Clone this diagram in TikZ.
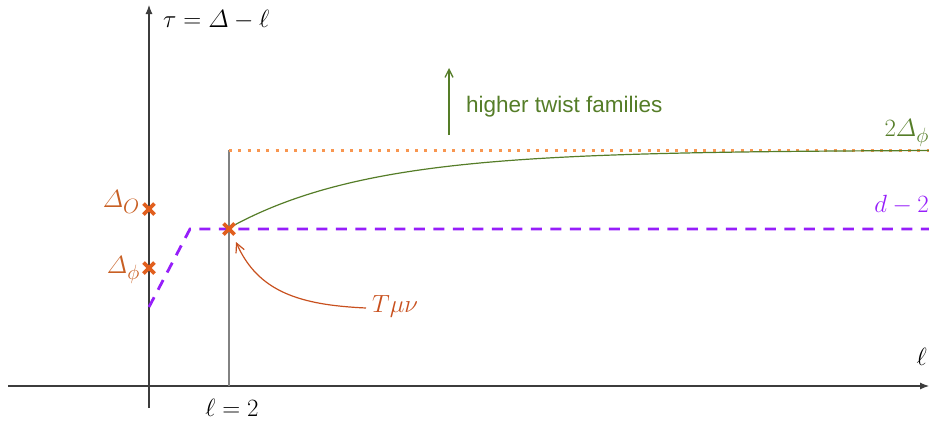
\documentclass[tikz,border=0pt]{standalone}
\usepackage{fontspec}
\usepackage{amsmath}
\newfontfamily\labsans{Liberation Sans}
\usetikzlibrary{arrows.meta}
\definecolor{axisgray}{RGB}{60,60,60}
\definecolor{lgray}{RGB}{130,130,130}
\definecolor{dotorange}{RGB}{248,150,80}
\definecolor{twistgreen}{RGB}{85,125,40}
\definecolor{dpurple}{RGB}{150,30,250}
\definecolor{crossorange}{RGB}{225,95,30}
\definecolor{laborange}{RGB}{200,95,35}
\definecolor{tmuorange}{RGB}{200,80,30}
\tikzset{
  axis/.style={draw=axisgray, line width=1.1pt, -{Latex[length=9pt,width=7pt]}},
  crossmark/.style={draw=crossorange, line width=3.6pt},
  lab/.style={inner sep=0pt, font=\fontsize{29}{31}\selectfont},
}
\begin{document}
\begin{tikzpicture}[x=1pt,y=-1pt]
\useasboundingbox (0,0) rectangle (929,423);
% axes
\coordinate (xs) at (8,386);
\coordinate (xe) at (929,386);
\coordinate (ys) at (149,408);
\coordinate (ye) at (149,5);
\draw[axis] (xs) -- (xe);
\draw[axis] (ys) -- (ye);
% vertical line at l=2
\coordinate (vb) at (229,386);
\coordinate (vt) at (229,150);
\draw[lgray, line width=1.4pt] (vb) -- (vt);
% dotted orange
\coordinate (de) at (929,150);
\draw[dotorange, line width=3pt, dash pattern=on 3pt off 6.3pt] (vt) -- (de);
% green curve
\draw[twistgreen, line width=1.2pt] plot[domain=229:929, samples=140, smooth] (\x, {150+78*exp(-(\x-229)/140)});
% purple dashed
\coordinate (p0) at (149,307);
\coordinate (p1) at (190,229);
\coordinate (p2) at (929,229);
\draw[dpurple, line width=2.8pt, dash pattern=on 11pt off 8.5pt] (p0) -- (p1) -- (p2);
% crosses
\foreach \n/\px/\py in {cO/149/209, cphi/149/268, cT/229/229}{
  \coordinate (\n) at (\px,\py);
  \draw[crossmark] ([shift={(-5.5,-5.5)}]\n) -- ([shift={(5.5,5.5)}]\n);
  \draw[crossmark] ([shift={(-5.5,5.5)}]\n) -- ([shift={(5.5,-5.5)}]\n);
}
% labels
\node[lab, anchor=west] (tau) at (163,20) {$\tau=\varDelta-\ell$};
\node[lab, anchor=east, text=laborange] (lO) at (140,202) {$\varDelta_{O}$};
\node[lab, anchor=east, text=laborange] (lphi) at (140,270) {$\varDelta_{\phi}$};
\node[lab, text=twistgreen, anchor=east] (l2d) at (929,133) {$2\varDelta_{\phi}$};
\node[lab, text=dpurple, anchor=east, font=\fontsize{31}{33}\selectfont] (ldm) at (929,205) {$d-2$};
\node[lab, text=tmuorange, anchor=west] (tmn) at (372,306) {$T\mu\nu$};
\node[lab, anchor=north] (l2) at (232,399) {$\ell=2$};
\node[lab, anchor=east] (lell) at (927,357) {$\ell$};
\node[inner sep=0pt, anchor=west, text=twistgreen, font=\labsans\fontsize{22.5}{24}\selectfont] (htf) at (466,107) {higher twist families};
% green arrow
\coordinate (ga0) at (449,135);
\coordinate (ga1) at (449,68);
\draw[twistgreen, line width=1.3pt, -{Straight Barb[length=8pt,width=8pt]}] (ga0) -- (ga1);
% T mu nu arrow
\coordinate (tstart) at (366,308);
\coordinate (tarr) at (236,242);
\draw[tmuorange, line width=1.2pt, -{Straight Barb[length=9pt,width=9pt]}] (tstart) .. controls (300,305) and (258,292) .. (tarr);
\end{tikzpicture}
\end{document}
